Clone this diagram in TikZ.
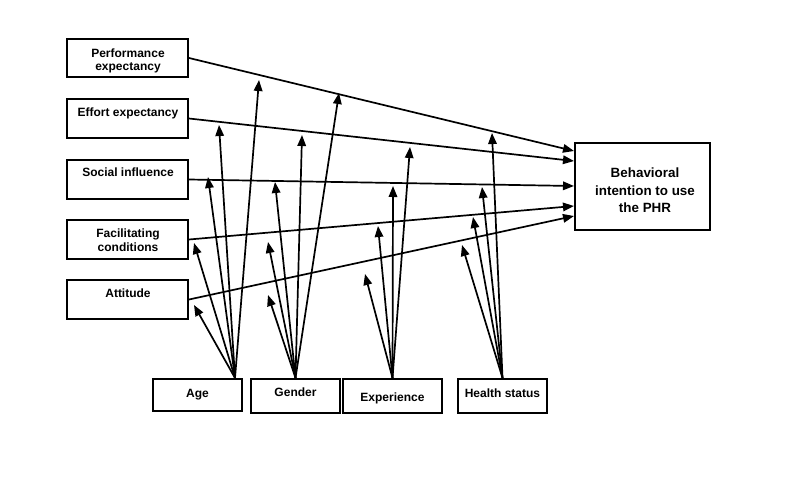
\documentclass[tikz,border=0pt]{standalone}
\usepackage{fontspec}
\setmainfont{Liberation Sans}
\usetikzlibrary{arrows.meta,calc}
\tikzset{
  box/.style={draw, line width=2pt, inner sep=0pt},
  lbl/.style={anchor=base, inner sep=0pt, font=\fontsize{12}{14}\selectfont\bfseries},
  biglbl/.style={anchor=base, inner sep=0pt, font=\fontsize{13.4}{17}\selectfont\bfseries},
  conn/.style={line width=1.7pt, -{Triangle[length=11pt,width=8.5pt]}}
}
\begin{document}
\begin{tikzpicture}[x=1pt,y=-1pt]
\useasboundingbox[fill=white] (0,0) rectangle (800,482);
% left boxes
\node[box, minimum width=121pt, minimum height=38pt] (pe) at (127.5,58) {};
\node[box, minimum width=121pt, minimum height=39pt] (ee) at (127.5,118.5) {};
\node[box, minimum width=121pt, minimum height=39pt] (si) at (127.5,179.5) {};
\node[box, minimum width=121pt, minimum height=39pt] (fc) at (127.5,239.5) {};
\node[box, minimum width=121pt, minimum height=39pt] (at) at (127.5,299.5) {};
\node[lbl] (pe1) at (128,57) {Performance};
\node[lbl] (pe2) at (128,70.5) {expectancy};
\node[lbl] (ee1) at (128,116) {Effort expectancy};
\node[lbl] (si1) at (128,176.7) {Social influence};
\node[lbl] (fc1) at (128,237.3) {Facilitating};
\node[lbl] (fc2) at (128,251) {conditions};
\node[lbl] (at1) at (128,297.7) {Attitude};
% big box
\node[box, minimum width=135pt, minimum height=87pt] (bi) at (642.5,186.5) {};
\node[biglbl] (bi1) at (645,177.3) {Behavioral};
\node[biglbl] (bi2) at (645,195) {intention to use};
\node[biglbl] (bi3) at (645,212.3) {the PHR};
% bottom boxes
\node[box, minimum width=89pt, minimum height=32pt] (age) at (197.5,395) {};
\node[box, minimum width=89pt, minimum height=34pt] (gen) at (295.5,396) {};
\node[box, minimum width=99pt, minimum height=34pt] (exp) at (392.5,396) {};
\node[box, minimum width=89pt, minimum height=34pt] (hs) at (502.5,396) {};
\node[lbl] (age1) at (197.5,397) {Age};
\node[lbl] (gen1) at (295.5,396) {Gender};
\node[lbl] (exp1) at (392.5,401) {Experience};
\node[lbl] (hs1) at (502.5,397) {Health status};
% main connectors
\draw[conn] (pe.east) -- ($(bi.north west)+(0,9)$);
\draw[conn] (ee.east) -- ($(bi.north west)+(0,19)$);
\draw[conn] (si.east) -- ($(bi.north west)+(0,44)$);
\draw[conn] (fc.east) -- ($(bi.north west)+(0,64)$);
\draw[conn] (at.east) -- ($(bi.north west)+(0,74)$);
% moderator origins
\coordinate (ao) at ($(age.north)+(37.5,0)$);
\coordinate (go) at (gen.north);
\coordinate (eo) at (exp.north);
\coordinate (ho) at (hs.north);
% tips
\coordinate (a1) at (259,80);
\coordinate (a2) at (219,125);
\coordinate (a3) at (208,177);
\coordinate (a4) at (194,243);
\coordinate (a5) at (194,305);
\coordinate (g1) at (339,93);
\coordinate (g2) at (302,135);
\coordinate (g3) at (275,182);
\coordinate (g4) at (268,242);
\coordinate (g5) at (268,295);
\coordinate (e1) at (410,147);
\coordinate (e2) at (393,186);
\coordinate (e3) at (378,226);
\coordinate (e4) at (365,274);
\coordinate (h1) at (492,133);
\coordinate (h2) at (482,187);
\coordinate (h3) at (473,217);
\coordinate (h4) at (462,245);
\foreach \t in {a1,a2,a3,a4,a5} \draw[conn] (ao) -- (\t);
\foreach \t in {g1,g2,g3,g4,g5} \draw[conn] (go) -- (\t);
\foreach \t in {e1,e2,e3,e4} \draw[conn] (eo) -- (\t);
\foreach \t in {h1,h2,h3,h4} \draw[conn] (ho) -- (\t);
\end{tikzpicture}
\end{document}
